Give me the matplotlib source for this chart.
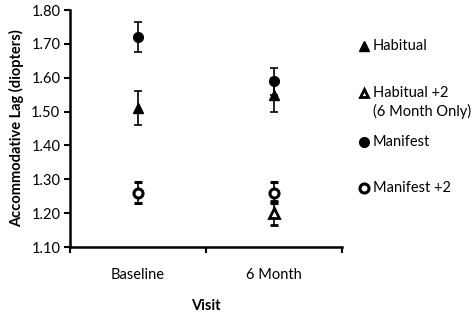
import matplotlib
matplotlib.use('Agg')
import matplotlib.pyplot as plt
from matplotlib.lines import Line2D

plt.rcParams['font.family'] = ['Lato', 'DejaVu Sans']

# Data
visits = ['Baseline', '6 Month']
habitual = [1.51, 1.55]
habitual_err = [0.051, 0.05]
habitual2 = [1.20]          # 6 Month only
habitual2_err = [0.035]
manifest = [1.72, 1.59]
manifest_err = [0.044, 0.04]
manifest2 = [1.26, 1.26]
manifest2_err = [0.031, 0.031]

xpos = [0.5, 1.5]
fs = 10.5

fig = plt.figure(figsize=(4.72, 3.12), dpi=100)
ax = fig.add_axes([70 / 472, 1 - 247 / 312, 272 / 472, 237 / 312])

ms = 6.5
common = dict(linestyle='none', ecolor='black', elinewidth=1.2, capsize=3, capthick=1.2)
ax.errorbar(xpos, habitual, yerr=habitual_err, marker='^', ms=ms + 1, mfc='black', mec='black', **common)
ax.errorbar(xpos[1:], habitual2, yerr=habitual2_err, marker='^', ms=ms, mfc='white', mec='black', mew=2, **common)
ax.errorbar(xpos, manifest, yerr=manifest_err, marker='o', ms=ms + 0.5, mfc='black', mec='black', **common)
ax.errorbar(xpos, manifest2, yerr=manifest2_err, marker='o', ms=ms, mfc='white', mec='black', mew=2.2, **common)

ax.set_xlim(0, 2)
ax.set_ylim(1.10, 1.80)
ax.set_yticks([1.10, 1.20, 1.30, 1.40, 1.50, 1.60, 1.70, 1.80])
ax.set_yticklabels([f'{v:.2f}' for v in ax.get_yticks()])
ax.set_xticks([0, 1, 2])
ax.set_xticklabels([])
ax.set_xticks(xpos, minor=True)
ax.set_xticklabels(visits, minor=True)
ax.tick_params(axis='x', which='minor', length=0, pad=15, labelsize=fs)
ax.tick_params(axis='x', which='major', length=4, width=1.5, direction='out')
ax.tick_params(axis='y', length=4, width=1.5, direction='out', labelsize=fs, pad=3)

for s in ['top', 'right']:
    ax.spines[s].set_visible(False)
for s in ['left', 'bottom']:
    ax.spines[s].set_linewidth(1.8)

ax.set_ylabel('Accommodative Lag (diopters)', fontsize=fs, fontweight='bold', labelpad=5)
ax.set_xlabel('Visit', fontsize=fs, fontweight='bold', labelpad=12)

# legend, laid out by hand (Excel style spacing)
leg_items = [
    ('^', 7, 'black', 1.0, 'Habitual', 46),
    ('^', 6, 'white', 2.0, 'Habitual +2', 93),
    ('o', 7, 'black', 1.0, 'Manifest', 142),
    ('o', 6.5, 'white', 2.2, 'Manifest +2', 188),
]
for mk, size, fc, ew, lab, ypx in leg_items:
    yf = 1 - ypx / 312
    fig.add_artist(Line2D([364 / 472], [yf], transform=fig.transFigure, linestyle='none',
                          marker=mk, ms=size, mfc=fc, mec='black', mew=ew))
    fig.text(373 / 472, yf, lab, fontsize=fs, va='center', ha='left')
fig.text(373 / 472, 1 - 111 / 312, '(6 Month Only)', fontsize=fs, va='center', ha='left')

fig.savefig('out.png', dpi=100)
